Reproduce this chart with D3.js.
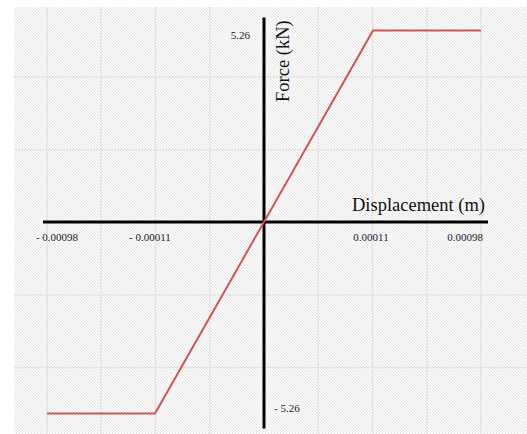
<!DOCTYPE html>
<html>
<head>
<meta charset="utf-8">
<script src="https://cdn.jsdelivr.net/npm/d3@7"></script>
<style>
  body { margin: 0; background: #fff; }
  svg { display: block; font-family: "Liberation Serif", "Times New Roman", serif; }
</style>
</head>
<body>
<div class="container"></div>
<script>
const WIDTH = 527;
const HEIGHT = 434;

// force-displacement (bilinear) curve
var displacement = [-0.00098, -0.00011, 0.00011, 0.00098];
var force = [-5.26, -5.26, 5.26, 5.26];
var xTickValues = [-0.00098, -0.00011, 0.00011, 0.00098];
var yTickValues = [5.26, -5.26];
var gridXIdx = [-4, -3, -2, -1, 1, 2, 3, 4];
var gridYIdx = [-2, -1, 1, 2];

var fmt = function(v) {
    return v < 0 ? '- ' + Math.abs(v) : String(v);
};

var svg = d3.select('.container').append('svg')
    .attr('width', WIDTH)
    .attr('height', HEIGHT);

// schematic (piecewise) scale, the yield point is drawn wide
let xScale = d3.scaleLinear()
    .domain([-0.00098, -0.00011, 0.00011, 0.00098])
    .range([47, 155, 373, 481]);

let yScale = d3.scaleLinear()
    .domain([-5.26, 5.26])
    .range([413.5, 30.5]);

let gx = d3.scaleLinear().domain([-4, 4]).range([47, 481]);
let gy = d3.scaleLinear().domain([-2, 2]).range([77, 367.5]);

// hatched background
var defs = svg.append('defs');
var pat = defs.append('pattern')
    .attr('id', 'hatch')
    .attr('patternUnits', 'userSpaceOnUse')
    .attr('width', 3)
    .attr('height', 3);
pat.append('rect').attr('width', 3).attr('height', 3).attr('fill', '#fcfcfc');
pat.append('path')
    .attr('d', 'M-1,-1 L4,4 M-1,2 L1,4 M2,-1 L4,1')
    .attr('stroke', '#e0e0e0')
    .attr('stroke-width', 0.9);

svg.append('rect')
    .attr('x', 14).attr('y', 7)
    .attr('width', WIDTH - 14).attr('height', HEIGHT - 7)
    .attr('fill', 'url(#hatch)');

// grid
svg.append('g').selectAll('line').data(gridXIdx).enter()
    .append('line')
    .attr('x1', d => gx(d)).attr('x2', d => gx(d))
    .attr('y1', 7).attr('y2', HEIGHT)
    .attr('stroke', '#e4e4e4')
    .attr('stroke-width', 1.5);

svg.append('g').selectAll('line').data(gridYIdx).enter()
    .append('line')
    .attr('x1', 14).attr('x2', WIDTH)
    .attr('y1', d => gy(d)).attr('y2', d => gy(d))
    .attr('stroke', '#e4e4e4')
    .attr('stroke-width', 1.5);

// axes
var x0 = xScale(0), y0 = yScale(0);
var xr = xScale.range(), yr = yScale.range();

svg.append('line')
    .attr('x1', xr[0] - 4).attr('x2', xr[xr.length - 1] + 7)
    .attr('y1', y0).attr('y2', y0)
    .attr('stroke', '#000').attr('stroke-width', 3);

svg.append('line')
    .attr('x1', x0).attr('x2', x0)
    .attr('y1', yr[1] - 13).attr('y2', yr[0] + 15)
    .attr('stroke', '#000').attr('stroke-width', 3);

// curve
var line = d3.line()
    .x(d => xScale(d[0]))
    .y(d => yScale(d[1]));

svg.append('path')
    .attr('d', line(displacement.map((d, i) => [d, force[i]])))
    .attr('fill', 'none')
    .attr('stroke', '#cf5555')
    .attr('stroke-width', 2);

// tick labels
var xNudge = [10, -5, -2, -16];
svg.append('g').selectAll('text').data(xTickValues).enter()
    .append('text')
    .attr('x', (d, i) => xScale(d) + xNudge[i])
    .attr('y', y0 + 19)
    .attr('text-anchor', 'middle')
    .attr('font-size', 11)
    .attr('fill', '#1a1a2a')
    .text(fmt);

svg.append('g').selectAll('text').data(yTickValues).enter()
    .append('text')
    .attr('x', d => d > 0 ? x0 - 14 : x0 + 10)
    .attr('y', d => d > 0 ? yScale(d) + 8.5 : yScale(d) - 1.5)
    .attr('text-anchor', d => d > 0 ? 'end' : 'start')
    .attr('font-size', 11)
    .attr('fill', '#1a1a2a')
    .text(fmt);

// axis titles
svg.append('text')
    .attr('x', xr[xr.length - 1] + 4)
    .attr('y', y0 - 11)
    .attr('text-anchor', 'end')
    .attr('font-size', 18.5)
    .attr('fill', '#111')
    .text('Displacement (m)');

svg.append('text')
    .attr('transform', `translate(${x0 + 25},102) rotate(-90)`)
    .attr('text-anchor', 'start')
    .attr('font-size', 18.5)
    .attr('fill', '#111')
    .text('Force (kN)');
</script>
</body>
</html>
